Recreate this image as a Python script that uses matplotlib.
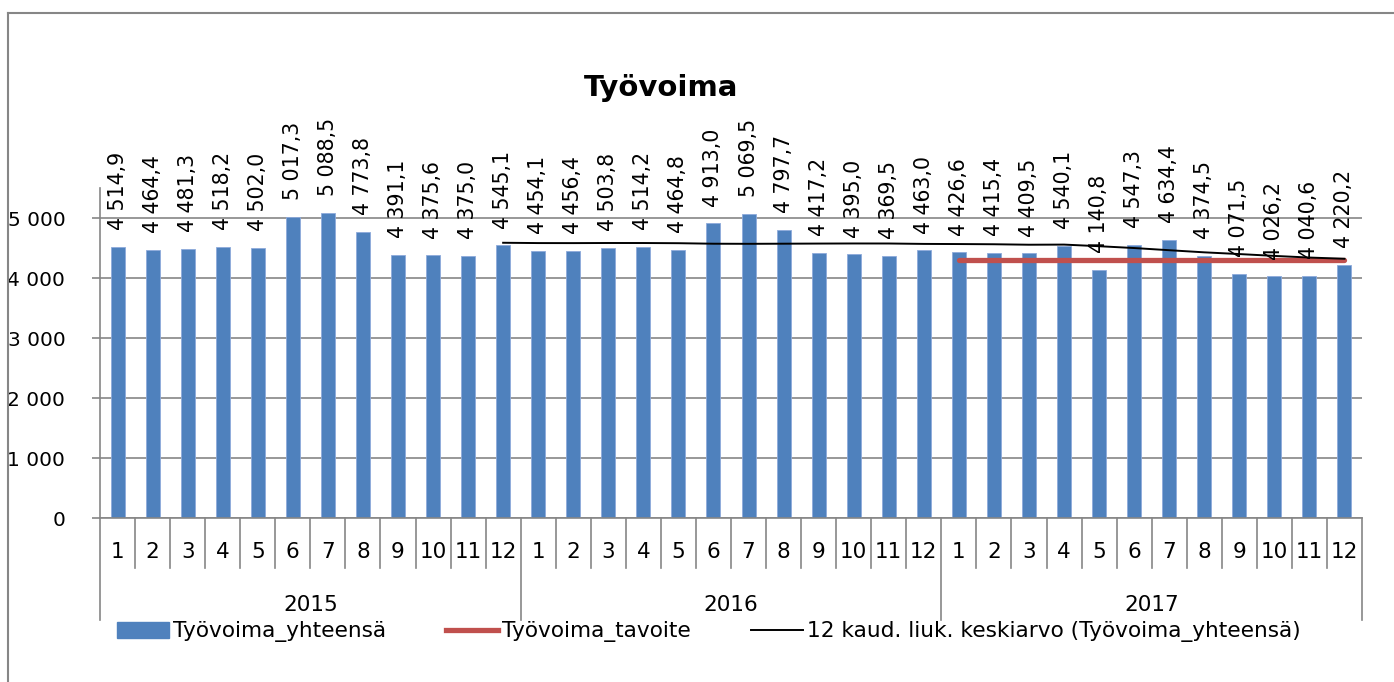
import numpy as np
import pandas as pd
import matplotlib
matplotlib.use("Agg")
import matplotlib.pyplot as plt
from matplotlib.lines import Line2D
from matplotlib.patches import Patch

# data
years = ["2015", "2016", "2017"]
months = [str(m) for m in range(1, 13)]
tyovoima = [4514.9, 4464.4, 4481.3, 4518.2, 4502.0, 5017.3, 5088.5, 4773.8, 4391.1, 4375.6, 4375.0, 4545.1,
            4454.1, 4456.4, 4503.8, 4514.2, 4464.8, 4913.0, 5069.5, 4797.7, 4417.2, 4395.0, 4369.5, 4463.0,
            4426.6, 4415.4, 4409.5, 4540.1, 4140.8, 4547.3, 4634.4, 4374.5, 4071.5, 4026.2, 4040.6, 4220.2]
tavoite = [np.nan] * 24 + [4300] * 12
yticks = [0, 1000, 2000, 3000, 4000, 5000]

n = len(tyovoima)
x = np.arange(n)
liuk = pd.Series(tyovoima).rolling(12).mean()

GRAY = "#868686"
W, H = 1394, 682

fig = plt.figure(figsize=(W / 100, H / 100), dpi=100)
ax = fig.add_axes([100 / W, (H - 518) / H, (1362 - 100) / W, (518 - 188) / H])

ax.bar(x, tyovoima, width=0.4, color="#4F81BD", edgecolor="#8EAADB", linewidth=0.6, zorder=2)
ax.plot(x, tavoite, color="#C0504D", lw=3.8, solid_capstyle="round", zorder=3)
ax.plot(x, liuk, color="black", lw=1.4, zorder=4)

def fmt(v, dec=1):
    s = f"{v:,.{dec}f}"
    return s.replace(",", " ").replace(".", ",")

for xi, v in zip(x, tyovoima):
    ax.annotate(fmt(v), (xi, v), xytext=(0, 12), textcoords="offset points",
                rotation=90, ha="center", va="bottom", fontsize=14.8, zorder=5)

ax.set_xlim(-0.5, n - 0.5)
ax.set_ylim(0, 5500)
ax.set_yticks(yticks)
ax.set_yticklabels([fmt(t, 0) for t in yticks], fontsize=14.5)
ax.tick_params(axis="y", length=6, width=1.2, color=GRAY, pad=19)
ax.set_xticks([])
ax.grid(axis="y", color=GRAY, lw=1.2, zorder=0)
ax.set_axisbelow(True)
for s in ["top", "right"]:
    ax.spines[s].set_visible(False)
for s in ["left", "bottom"]:
    ax.spines[s].set_color(GRAY)
    ax.spines[s].set_linewidth(1.2)

# multi-level category axis
trans = ax.get_xaxis_transform()
for b in range(n + 1):
    bx = b - 0.5
    y1 = -0.309 if b % 12 == 0 else -0.1515
    ax.plot([bx, bx], [0, y1], transform=trans, color=GRAY, lw=1.2, clip_on=False)
for i in range(n):
    ax.text(i, -0.103, months[i % 12], transform=trans, ha="center", va="center", fontsize=15.5)
for k, yr in enumerate(years):
    ax.text(12 * k + 5.5, -0.264, yr, transform=trans, ha="center", va="center", fontsize=15.5)

fig.text(661 / W, (H - 88) / H, "Työvoima", ha="center", va="center", fontsize=21, fontweight="bold")

handles = [Patch(color="#4F81BD"),
           Line2D([], [], color="#C0504D", lw=3.8),
           Line2D([], [], color="black", lw=1.4)]
labels = ["Työvoima_yhteensä", "Työvoima_tavoite", "12 kaud. liuk. keskiarvo (Työvoima_yhteensä)"]
fig.legend(handles, labels, loc="center left", bbox_to_anchor=(117 / W, (H - 632) / H),
           ncol=3, frameon=False, fontsize=15.6, handlelength=2.4, handletextpad=0.2,
           columnspacing=2.75, borderpad=0, borderaxespad=0)

# outer chart border
fig.add_artist(Line2D([8 / W, 1], [(H - 13) / H] * 2, color=GRAY, lw=1.5))
fig.add_artist(Line2D([8 / W] * 2, [0, (H - 13) / H], color=GRAY, lw=1.5))

fig.savefig("out.png", dpi=100)
